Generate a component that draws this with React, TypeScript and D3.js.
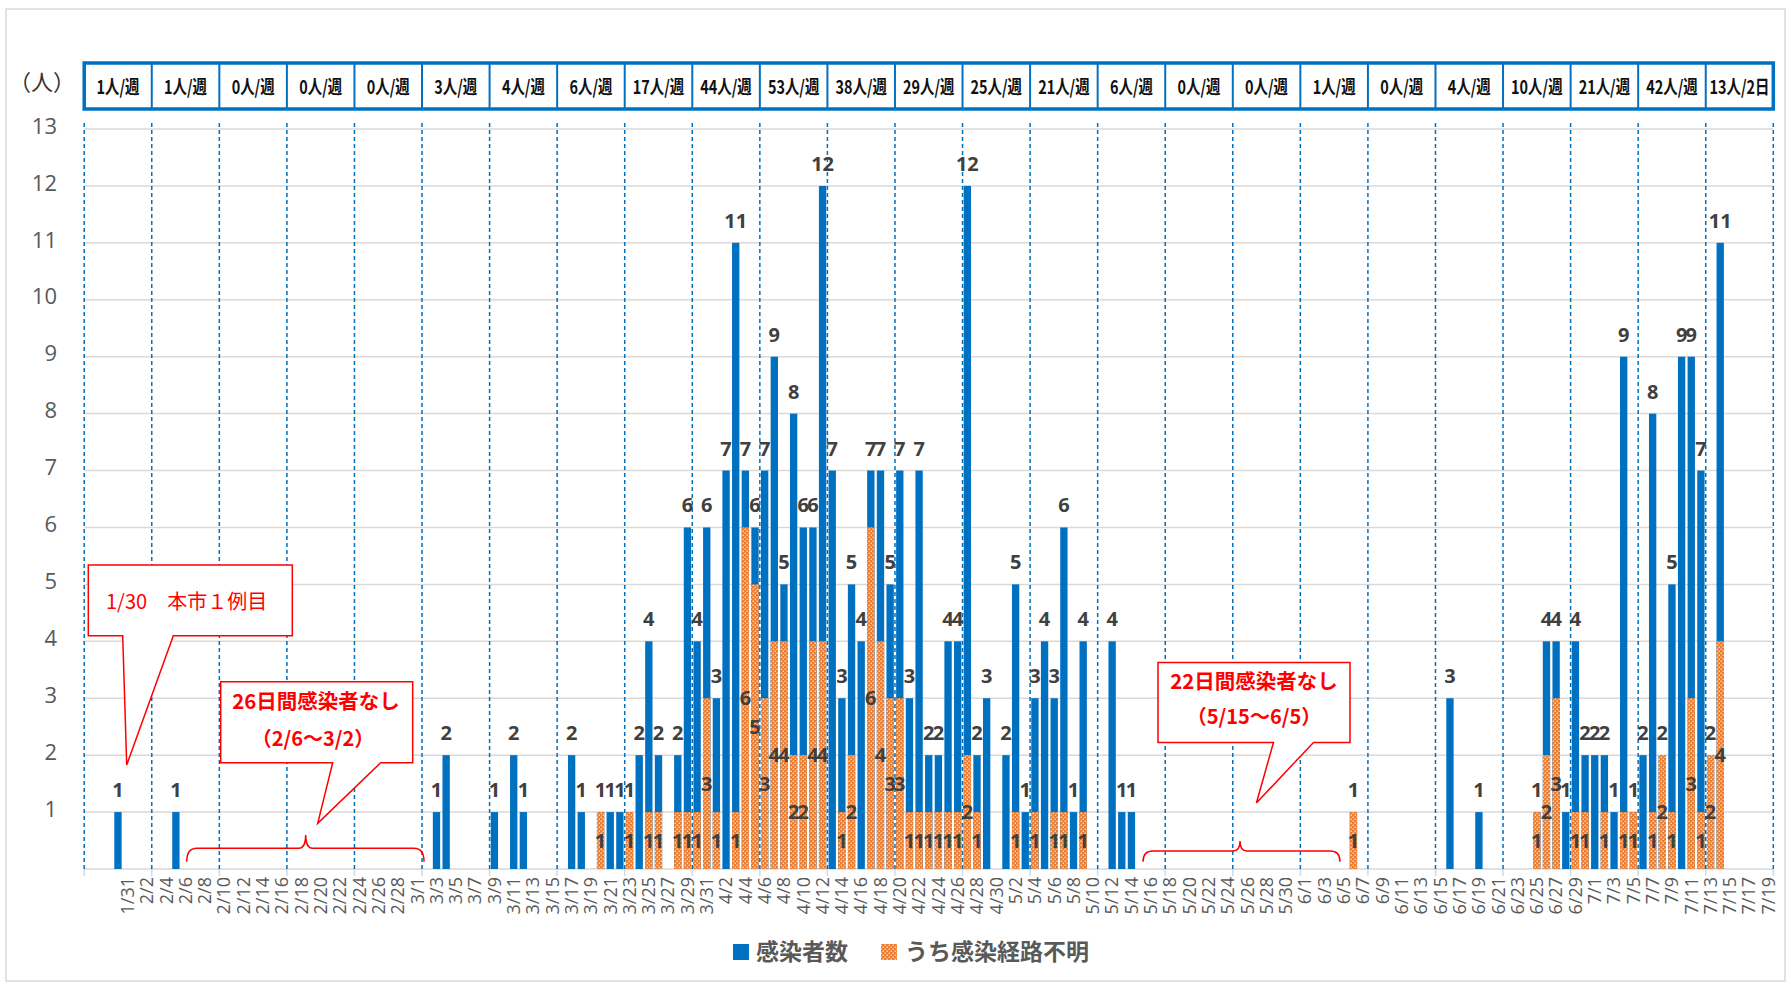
import React from "react";
import * as d3 from "d3";

const W = 1791;
const H = 986;

// x domain: daily categories from 2020-01-27, 175 days (25 weeks)
const START = new Date(2020, 0, 27);
const N_DAYS = 175;

const caseDates = [
  "1/30", "2/5", "3/3", "3/4", "3/9", "3/11", "3/12", "3/17", "3/18", "3/20",
  "3/21", "3/22", "3/23", "3/24", "3/25", "3/26", "3/28", "3/29", "3/30", "3/31",
  "4/1", "4/2", "4/3", "4/4", "4/5", "4/6", "4/7", "4/8", "4/9", "4/10",
  "4/11", "4/12", "4/13", "4/14", "4/15", "4/16", "4/17", "4/18", "4/19", "4/20",
  "4/21", "4/22", "4/23", "4/24", "4/25", "4/26", "4/27", "4/28", "4/29", "5/1",
  "5/2", "5/3", "5/4", "5/5", "5/6", "5/7", "5/8", "5/9", "5/12", "5/13",
  "5/14", "6/6", "6/16", "6/19", "6/25", "6/26", "6/27", "6/28", "6/29", "6/30",
  "7/1", "7/2", "7/3", "7/4", "7/5", "7/6", "7/7", "7/8", "7/9", "7/10",
  "7/11", "7/12", "7/13", "7/14",
];
const caseTotals = [
  1, 1, 1, 2, 1, 2, 1, 2, 1, 1,
  1, 1, 1, 2, 4, 2, 2, 6, 4, 6,
  3, 7, 11, 7, 6, 7, 9, 5, 8, 6,
  6, 12, 7, 3, 5, 4, 7, 7, 5, 7,
  3, 7, 2, 2, 4, 4, 12, 2, 3, 2,
  5, 1, 3, 4, 3, 6, 1, 4, 4, 1,
  1, 1, 3, 1, 1, 4, 4, 1, 4, 2,
  2, 2, 1, 9, 1, 2, 8, 2, 5, 9,
  9, 7, 2, 11,
];
const caseUnknown = [
  0, 0, 0, 0, 0, 0, 0, 0, 0, 1,
  0, 0, 1, 0, 1, 1, 1, 1, 1, 3,
  1, 0, 1, 6, 5, 3, 4, 4, 2, 2,
  4, 4, 0, 1, 2, 0, 6, 4, 3, 3,
  1, 1, 1, 1, 1, 1, 2, 1, 0, 0,
  1, 0, 1, 0, 1, 1, 0, 1, 0, 0,
  0, 1, 0, 0, 1, 2, 3, 0, 1, 1,
  0, 1, 0, 1, 1, 0, 1, 2, 1, 0,
  3, 1, 2, 4,
];
const weekLabels = [
  "1人/週", "1人/週", "0人/週", "0人/週", "0人/週", "3人/週", "4人/週", "6人/週",
  "17人/週", "44人/週", "53人/週", "38人/週", "29人/週", "25人/週", "21人/週",
  "6人/週", "0人/週", "0人/週", "1人/週", "0人/週", "4人/週", "10人/週",
  "21人/週", "42人/週", "13人/2日",
];
const yTickLabels = [1, 2, 3, 4, 5, 6, 7, 8, 9, 10, 11, 12, 13];
const seriesNames = ["感染者数", "うち感染経路不明"];

const BLUE = "#0070C0";
const ORANGE = "#ED7D31";
const RED = "#FF0000";
const LABEL = "#404040";
const GRAY = "#595959";
const GRID = "#D9D9D9";
const FONT = "'Open Sans', 'Noto Sans', 'Noto Sans CJK JP', sans-serif";
const JFONT = "'Noto Sans CJK JP', 'Noto Sans', sans-serif";

const fmt = d3.timeFormat("%-m/%-d");
const days = d3.timeDay.range(START, d3.timeDay.offset(START, N_DAYS));
const dayKeys = days.map(fmt);

const X0 = 84.2;
const X1 = 1773.3;
const Y0 = 869;
const Y13 = 129;

const x = d3.scaleBand<string>().domain(dayKeys).range([X0, X1]).paddingInner(0.24).paddingOuter(0.12);
const dayLin = d3.scaleLinear().domain([0, N_DAYS]).range([X0, X1]);
const y = d3.scaleLinear().domain([0, 13]).range([Y0, Y13]);

const records = caseDates.map((d, i) => ({ date: d, total: caseTotals[i], unknown: caseUnknown[i] }));

function brace(x1: number, x2: number, mid: number, yBase: number, yLine: number, yPeak: number) {
  const r = 10;
  const r2 = 7;
  return `M${x1},${yBase} Q${x1},${yLine} ${x1 + r},${yLine} L${mid - r2},${yLine} Q${mid},${yLine} ${mid},${yPeak} Q${mid},${yLine} ${mid + r2},${yLine} L${x2 - r},${yLine} Q${x2},${yLine} ${x2},${yBase}`;
}

function callout(x1: number, y1: number, x2: number, y2: number, b1: number, b2: number, tx: number, ty: number) {
  return `M${x1},${y1} L${x2},${y1} L${x2},${y2} L${b2},${y2} L${tx},${ty} L${b1},${y2} L${x1},${y2} Z`;
}

export default function App() {
  const bw = x.bandwidth();
  const weeks = d3.range(0, 26);
  return (
    <svg width={W} height={H} style={{ position: "absolute", left: 0, top: 0, background: "#fff" }}>
      <defs>
        <pattern id="dots" width="4" height="4" patternUnits="userSpaceOnUse">
          <rect width="4" height="4" fill={ORANGE} />
          <rect x="0.6" y="0.6" width="1.2" height="1.2" fill="#fff" />
          <rect x="2.6" y="2.6" width="1.2" height="1.2" fill="#fff" />
        </pattern>
      </defs>
      <rect x={0} y={0} width={W} height={H} fill="#fff" />
      <rect x={6} y={9} width={1779} height={972} fill="none" stroke={GRID} strokeWidth={1.5} />

      {/* horizontal gridlines */}
      {yTickLabels.map((v) => (
        <line key={"g" + v} x1={X0} x2={X1} y1={y(v)} y2={y(v)} stroke={GRID} strokeWidth={1.5} />
      ))}
      {/* x axis */}
      <line x1={X0} x2={X1} y1={Y0} y2={Y0} stroke={GRID} strokeWidth={1.5} />
      {weeks.map((w) => (
        <line key={"t" + w} x1={dayLin(w * 7)} x2={dayLin(w * 7)} y1={Y0} y2={Y0 + 7} stroke={GRID} strokeWidth={1.5} />
      ))}

      {/* y tick labels */}
      {yTickLabels.map((v) => (
        <text key={"y" + v} x={57} y={y(v) - 3} dy="0.35em" textAnchor="end" fontFamily={FONT} fontSize={22} fill={GRAY}>
          {v}
        </text>
      ))}
      <text x={42} y={82} dy="0.35em" textAnchor="middle" fontFamily={JFONT} fontSize={22} fill="#333">
        （人）
      </text>

      {/* weekly dashed lines */}
      {weeks.map((w) => (
        <line key={"w" + w} x1={dayLin(w * 7)} x2={dayLin(w * 7)} y1={Y13 - 6} y2={Y0} stroke={BLUE} strokeWidth={1.5} strokeDasharray="4,3" />
      ))}

      {/* week header */}
      <g>
        {weekLabels.map((lbl, i) => {
          const a = dayLin(i * 7);
          const b = dayLin(i * 7 + 7);
          const cx = (a + b) / 2;
          return (
            <g key={"h" + i}>
              {i > 0 && <line x1={a} x2={a} y1={63} y2={109} stroke={BLUE} strokeWidth={2} />}
              <text
                transform={`translate(${cx},${87}) scale(0.76,1)`}
                textAnchor="middle"
                dy="0.36em"
                fontFamily={JFONT}
                fontWeight={700}
                fontSize={19}
                fill="#111"
              >
                {lbl}
              </text>
            </g>
          );
        })}
        <rect x={dayLin(0)} y={63} width={dayLin(N_DAYS) - dayLin(0)} height={46} fill="none" stroke={BLUE} strokeWidth={3.5} />
      </g>

      {/* bars */}
      {records.map((r) => {
        const bx = x(r.date)!;
        return (
          <g key={"b" + r.date}>
            <rect x={bx} y={y(r.total)} width={bw} height={Y0 - y(r.total)} fill={BLUE} />
            {r.unknown > 0 && <rect x={bx} y={y(r.unknown)} width={bw} height={Y0 - y(r.unknown)} fill="url(#dots)" />}
          </g>
        );
      })}
      {/* labels */}
      {records.map((r) => {
        const cx = x(r.date)! + bw / 2;
        return (
          <g key={"l" + r.date} fontFamily={FONT} fontWeight={700} fontSize={20} fill={LABEL} textAnchor="middle">
            <text x={cx} y={y(r.total) - 15}>{r.total}</text>
            {r.unknown > 0 && (
              <text x={cx} y={y(r.unknown / 2)} dy="0.36em">
                {r.unknown}
              </text>
            )}
          </g>
        );
      })}

      {/* x tick labels */}
      {days.map((d, i) =>
        i >= 4 && i % 2 === 0 ? (
          <text
            key={"x" + i}
            transform={`translate(${x(dayKeys[i])! + bw / 2},${877}) rotate(-90)`}
            textAnchor="end"
            dy="0.35em"
            fontFamily={FONT}
            fontSize={18}
            fill={GRAY}
          >
            {dayKeys[i]}
          </text>
        ) : null
      )}

      {/* annotations */}
      <path d={callout(88.3, 565, 292.3, 635.7, 122.7, 173.3, 126.7, 765)} fill="#fff" stroke={RED} strokeWidth={1.5} />
      <text x={106} y={602} dy="0.35em" fontFamily={JFONT} fontSize={20} fill={RED}>
        1/30　本市１例目
      </text>

      <path d={callout(220.7, 681.7, 412.7, 762.7, 332.7, 380.7, 317.7, 823.3)} fill="#fff" stroke={RED} strokeWidth={1.5} />
      <text x={316} y={702} dy="0.35em" textAnchor="middle" fontFamily={JFONT} fontWeight={700} fontSize={20.5} fill={RED}>
        26日間感染者なし
      </text>
      <text x={313} y={739} dy="0.35em" textAnchor="middle" fontFamily={JFONT} fontWeight={700} fontSize={20} fill={RED}>
        （2/6～3/2）
      </text>
      <path d={brace(186.7, 424, 305.7, 861.7, 848.3, 835)} fill="none" stroke={RED} strokeWidth={1.5} />

      <path d={callout(1158, 662.5, 1350, 742.4, 1273.5, 1313.5, 1256.4, 803)} fill="#fff" stroke={RED} strokeWidth={1.5} />
      <text x={1254} y={682} dy="0.35em" textAnchor="middle" fontFamily={JFONT} fontWeight={700} fontSize={20.5} fill={RED}>
        22日間感染者なし
      </text>
      <text x={1254} y={717} dy="0.35em" textAnchor="middle" fontFamily={JFONT} fontWeight={700} fontSize={20} fill={RED}>
        （5/15～6/5）
      </text>
      <path d={brace(1143, 1340, 1240, 861.7, 851, 841)} fill="none" stroke={RED} strokeWidth={1.5} />

      {/* legend */}
      <rect x={733} y={944} width={16} height={16} fill={BLUE} />
      <text x={756} y={952} dy="0.35em" fontFamily={JFONT} fontWeight={700} fontSize={23} fill={GRAY}>
        {seriesNames[0]}
      </text>
      <rect x={881} y={944} width={16} height={16} fill="url(#dots)" />
      <text x={905} y={952} dy="0.35em" fontFamily={JFONT} fontWeight={700} fontSize={23} fill={GRAY}>
        {seriesNames[1]}
      </text>
    </svg>
  );
}
